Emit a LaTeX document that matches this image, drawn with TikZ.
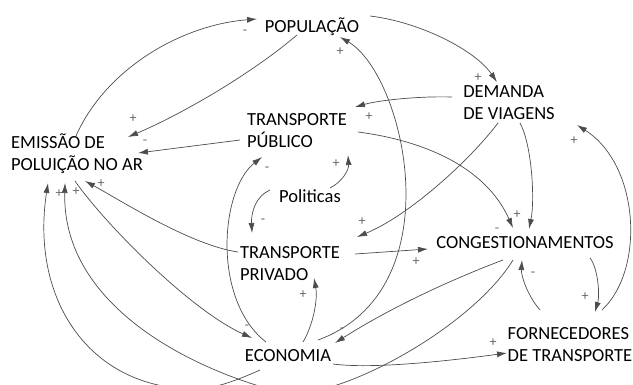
\documentclass[tikz,border=0pt]{standalone}
\usepackage{fontspec}
\setmainfont{Carlito}
\usetikzlibrary{arrows.meta,calc}
\tikzset{
  var/.style={font=\fontsize{18.5}{22}\selectfont, align=left, inner sep=0pt},
  link/.style={draw=black!70, line width=0.7pt, -{Latex[length=10pt,width=6pt]}},
  sgn/.style={font=\fontsize{14}{14}\selectfont, text=black!60, inner sep=0pt},
}
\begin{document}
\begin{tikzpicture}[x=1pt,y=-1pt]
\useasboundingbox (0,0) rectangle (633,384);
\clip (0,0) rectangle (633,384);

% variables
\node[var] (popul) at (312,27) {POPULAÇÃO};
\node[var] (dem) at (509,103) {DEMANDA\\DE VIAGENS};
\node[var] (tpub) at (297,131) {TRANSPORTE\\PÚBLICO};
\node[var] (emis) at (77,154) {EMISSÃO DE\\POLUIÇÃO NO AR};
\node[var] (pol) at (310,196) {Politicas};
\node[var] (tpriv) at (290,264) {TRANSPORTE\\PRIVADO};
\node[var] (cong) at (525,243) {CONGESTIONAMENTOS};
\node[var] (econ) at (288,356) {ECONOMIA};
\node[var] (forn) at (570,345) {FORNECEDORES\\DE TRANSPORTE};

% links
\draw[link] ($(emis)+(-1,-18)$) .. controls +(29,-66) and +(-77,6) .. ($(popul)+(-55,-8)$) node[sgn,shift={(-12,13)}] {-};
\draw[link] ($(popul)+(-15,8)$) .. controls +(-47,40) and +(52,-22) .. ($(emis)+(51,-17)$) node[sgn,shift={(5,-18)}] {+};
\draw[link] ($(tpub)+(-57,9)$) -- ($(emis)+(61,-1)$) node[sgn,shift={(7,-11)}] {-};
\draw[link] ($(popul)+(58,-11)$) .. controls +(50,6) and +(-22,-32) .. ($(dem)+(-12,-21)$) node[sgn,shift={(-19,-4)}] {+};
\draw[link] ($(dem)+(-57,-6)$) .. controls +(-32,-1) and +(25,-7) .. ($(tpub)+(58,-24)$) node[sgn,shift={(14,10)}] {+};
\draw[link] ($(dem)+(11,20)$) .. controls +(12,22) and +(6,-29) .. ($(cong)+(4,-14)$) node[sgn,shift={(-12,-14)}] {+};
\draw[link] ($(tpub)+(61,1)$) .. controls +(62,8) and +(-28,-63) .. ($(cong)+(-12,-15)$) node[sgn,shift={(-16,2)}] {-};
\draw[link] ($(dem)+(-11,20)$) .. controls +(-28,37) and +(53,-22) .. ($(tpriv)+(67,-27)$) node[sgn,shift={(5,-15)}] {+};
\draw[link] ($(pol)+(20,-8)$) .. controls +(12,-6) and +(1,15) .. ($(tpub)+(51,24)$) node[sgn,shift={(-12,9)}] {+};
\draw[link] ($(pol)+(-40,-6)$) .. controls +(-14,6) and +(-1,-21) .. ($(tpriv)+(-38,-31)$) node[sgn,shift={(11,-12)}] {-};
\draw[link] ($(tpriv)+(65,-10)$) -- ($(cong)+(-97,6)$) node[sgn,shift={(-12,13)}] {+};
\draw[link] ($(tpriv)+(-52,-12)$) .. controls +(-48,-7) and +(35,19) .. ($(emis)+(8,27)$) node[sgn,shift={(16,3)}] {+};
\draw[link] ($(emis)+(-2,27)$) .. controls +(30,43) and +(-62,-28) .. ($(econ)+(-36,-18)$) node[sgn,shift={(-5,-11)}] {-};
\draw[link] ($(econ)+(-22,-14)$) .. controls +(-54,-42) and +(-42,33) .. ($(tpub)+(-35,26)$) node[sgn,shift={(5,12)}] {-};
\draw[link] ($(econ)+(30,-16)$) .. controls +(137,-50) and +(65,38) .. ($(popul)+(28,10)$) node[sgn,shift={(0,15)}] {+};
\draw[link] ($(econ)+(15,-14)$) .. controls +(10,-17) and +(4,22) .. ($(tpriv)+(24,14)$) node[sgn,shift={(-11,17)}] {+};
\draw[link] ($(cong)+(-22,17)$) .. controls +(-53,20) and +(55,-35) .. ($(econ)+(47,-13)$) node[sgn,shift={(7,-13)}] {-};
\draw[link] ($(econ)+(45,8)$) .. controls +(45,6) and +(-37,5) .. ($(forn)+(-63,8)$) node[sgn,shift={(-14,-10)}] {+};
\draw[link] ($(forn)+(-30,-35)$) .. controls +(-13,-15) and +(-1,15) .. ($(cong)+(-3,17)$) node[sgn,shift={(11,14)}] {-};
\draw[link] ($(cong)+(65,15)$) .. controls +(8,10) and +(5,-17) .. ($(forn)+(25,-33)$) node[sgn,shift={(-10,-15)}] {+};
\draw[link] ($(forn)+(32,-35)$) .. controls +(43,-40) and +(63,40) .. ($(dem)+(68,22)$) node[sgn,shift={(-3,16)}] {+};
\draw[link] ($(econ)+(-28,14)$) .. controls +(-20,9) and +(20,0) .. (195,389) .. controls +(-105,0) and +(-18,117) .. ($(emis)+(-29,29)$) node[sgn,shift={(11,11)}] {+};
\draw[link] ($(cong)+(-12,17)$) .. controls +(-43,70) and +(50,13) .. (280,392) .. controls +(-100,-26) and +(-3,117) .. ($(emis)+(-12,29)$) node[sgn,shift={(11,9)}] {+};
\end{tikzpicture}
\end{document}
